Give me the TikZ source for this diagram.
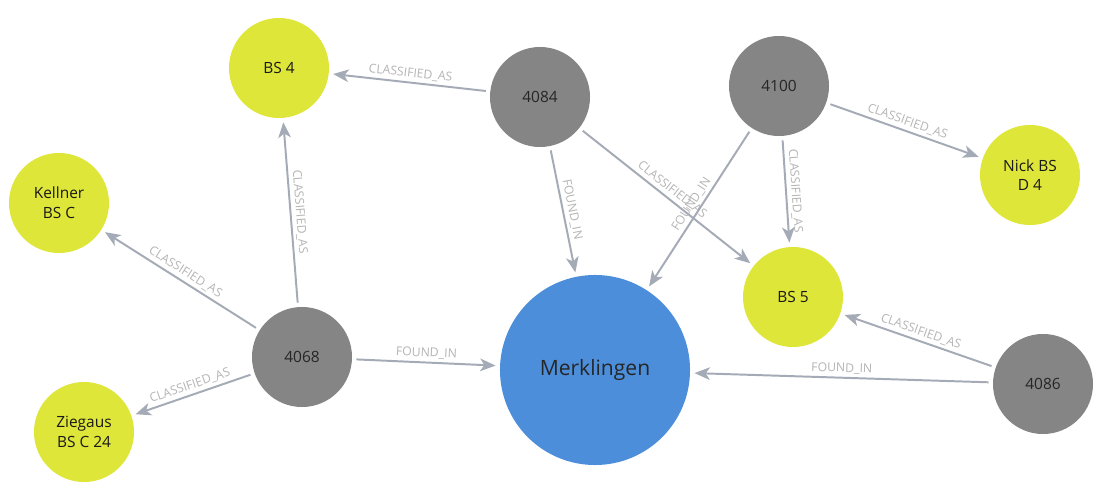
\documentclass[tikz,border=0pt]{standalone}
\usepackage{fontspec}
\setmainfont{Open Sans}
\usetikzlibrary{arrows.meta}
\definecolor{findgray}{HTML}{858585}
\definecolor{typeyellow}{HTML}{DFE63A}
\definecolor{placeblue}{HTML}{4C8EDA}
\definecolor{relline}{HTML}{A5ABB6}
\definecolor{reltext}{HTML}{B4B4B4}
\tikzset{
  find/.style={circle, fill=findgray, minimum size=2.5cm, inner sep=0pt,
    text=black!85, font=\fontsize{11}{14}\selectfont},
  type/.style={circle, fill=typeyellow, minimum size=2.5cm, inner sep=0pt,
    align=center, text=black!90, font=\fontsize{11}{14}\selectfont},
  place/.style={circle, fill=placeblue, minimum size=4.75cm, inner sep=0pt,
    text=black!85, font=\fontsize{15}{18}\selectfont},
  rel/.style={draw=relline, line width=1.4pt,
    -{Stealth[length=11pt,width=9pt,inset=3pt]},
    shorten <=3pt, shorten >=3pt},
  rellabel/.style={sloped, above, inner sep=2pt, text=reltext,
    font=\fontsize{8.7}{10}\selectfont}
}
\begin{document}
\begin{tikzpicture}[x=0.025cm, y=-0.025cm]
    \useasboundingbox (0,0) rectangle (1117,498);
    % nodes
    \node[type] (bsfour) at (279,68) {BS 4};
    \node[type] (kellner) at (59,203) {Kellner\\BS C};
    \node[type] (ziegaus) at (84,432) {Ziegaus\\BS C 24};
    \node[type] (bsfive) at (793,297) {BS 5};
    \node[type] (nickbs) at (1030,175) {Nick BS\\D 4};
    \node[place] (merklingen) at (595,370) {Merklingen};
    \node[find] (f4084) at (540,97) {4084};
    \node[find] (f4100) at (779,86) {4100};
    \node[find] (f4068) at (302,357) {4068};
    \node[find] (f4086) at (1043,384) {4086};
    % relations
    \draw[rel] (f4084) -- node[rellabel] {CLASSIFIED\_AS} (bsfour);
    \draw[rel] (f4084) -- node[rellabel] {FOUND\_IN} (merklingen);
    \draw[rel] (f4084) -- node[rellabel] {CLASSIFIED\_AS} (bsfive);
    \draw[rel] (f4100) -- node[rellabel] {FOUND\_IN} (merklingen);
    \draw[rel] (f4100) -- node[rellabel] {CLASSIFIED\_AS} (bsfive);
    \draw[rel] (f4100) -- node[rellabel] {CLASSIFIED\_AS} (nickbs);
    \draw[rel] (f4068) -- node[rellabel] {CLASSIFIED\_AS} (bsfour);
    \draw[rel] (f4068) -- node[rellabel] {CLASSIFIED\_AS} (kellner);
    \draw[rel] (f4068) -- node[rellabel] {CLASSIFIED\_AS} (ziegaus);
    \draw[rel] (f4068) -- node[rellabel] {FOUND\_IN} (merklingen);
    \draw[rel] (f4086) -- node[rellabel] {CLASSIFIED\_AS} (bsfive);
    \draw[rel] (f4086) -- node[rellabel] {FOUND\_IN} (merklingen);
\end{tikzpicture}
\end{document}
